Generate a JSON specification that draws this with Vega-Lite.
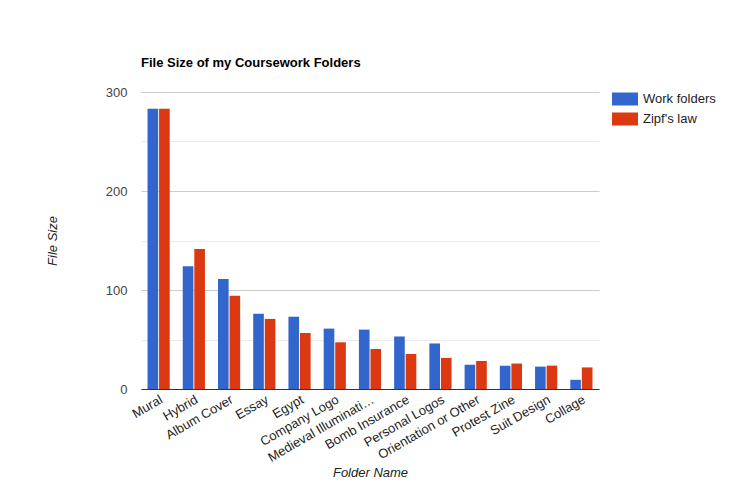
{
  "$schema": "https://vega.github.io/schema/vega-lite/v6.json",
  "description": "Grouped bars: file size of coursework folders compared with Zipf's law.",
  "width": 458,
  "height": 297,
  "autosize": "none",
  "padding": {"left": 141, "top": 92, "right": 141, "bottom": 92},
  "background": "#ffffff",
  "title": {
    "text": "File Size of my Coursework Folders",
    "anchor": "start",
    "frame": "group",
    "font": "Liberation Sans",
    "fontSize": 13,
    "fontWeight": "bold",
    "color": "#000000",
    "offset": 16
  },
  "data": {
    "values": [
      {"folder": "Mural", "series": "Work folders", "size": 283},
      {"folder": "Mural", "series": "Zipf's law", "size": 283},
      {"folder": "Hybrid", "series": "Work folders", "size": 124},
      {"folder": "Hybrid", "series": "Zipf's law", "size": 141.5},
      {"folder": "Album Cover", "series": "Work folders", "size": 111},
      {"folder": "Album Cover", "series": "Zipf's law", "size": 94.3},
      {"folder": "Essay", "series": "Work folders", "size": 76},
      {"folder": "Essay", "series": "Zipf's law", "size": 70.8},
      {"folder": "Egypt", "series": "Work folders", "size": 73},
      {"folder": "Egypt", "series": "Zipf's law", "size": 56.6},
      {"folder": "Company Logo", "series": "Work folders", "size": 61},
      {"folder": "Company Logo", "series": "Zipf's law", "size": 47.2},
      {"folder": "Medieval Illumination", "series": "Work folders", "size": 60},
      {"folder": "Medieval Illumination", "series": "Zipf's law", "size": 40.4},
      {"folder": "Bomb Insurance", "series": "Work folders", "size": 53},
      {"folder": "Bomb Insurance", "series": "Zipf's law", "size": 35.4},
      {"folder": "Personal Logos", "series": "Work folders", "size": 46},
      {"folder": "Personal Logos", "series": "Zipf's law", "size": 31.4},
      {"folder": "Orientation or Other", "series": "Work folders", "size": 24.5},
      {"folder": "Orientation or Other", "series": "Zipf's law", "size": 28.3},
      {"folder": "Protest Zine", "series": "Work folders", "size": 23.5},
      {"folder": "Protest Zine", "series": "Zipf's law", "size": 25.7},
      {"folder": "Suit Design", "series": "Work folders", "size": 22.6},
      {"folder": "Suit Design", "series": "Zipf's law", "size": 23.6},
      {"folder": "Collage", "series": "Work folders", "size": 9.3},
      {"folder": "Collage", "series": "Zipf's law", "size": 21.8}
    ]
  },
  "mark": {"type": "bar"},
  "encoding": {
    "x": {
      "field": "folder",
      "type": "nominal",
      "sort": null,
      "scale": {"paddingInner": 0.37, "paddingOuter": 0.185},
      "axis": {
        "title": "Folder Name",
        "titleFont": "Liberation Sans",
        "titleFontSize": 13,
        "titleFontStyle": "italic",
        "titleFontWeight": "normal",
        "titleColor": "#222222",
        "titlePadding": 2,
        "labelAngle": -30,
        "labelFont": "Liberation Sans",
        "labelFontSize": 13,
        "labelColor": "#222222",
        "labelLimit": 121,
        "labelPadding": 4,
        "ticks": false,
        "domainColor": "#333333",
        "domainWidth": 1,
        "grid": false
      }
    },
    "xOffset": {
      "field": "series",
      "type": "nominal",
      "scale": {"paddingInner": 0.08}
    },
    "y": {
      "field": "size",
      "type": "quantitative",
      "scale": {"domain": [0, 300], "nice": false},
      "axis": {
        "title": "File Size",
        "titleFont": "Liberation Sans",
        "titleFontSize": 13,
        "titleFontStyle": "italic",
        "titleFontWeight": "normal",
        "titleColor": "#222222",
        "titlePadding": 46,
        "values": [0, 50, 100, 150, 200, 250, 300],
        "labelExpr": "datum.value % 100 === 0 ? datum.label : ''",
        "labelFont": "Liberation Sans",
        "labelFontSize": 13,
        "labelColor": "#444444",
        "labelPadding": 14,
        "ticks": false,
        "domain": false,
        "gridColor": {
          "condition": {"test": "datum.value % 100 === 0", "value": "#cccccc"},
          "value": "#ebebeb"
        }
      }
    },
    "color": {
      "field": "series",
      "type": "nominal",
      "scale": {
        "domain": ["Work folders", "Zipf's law"],
        "range": ["#3366cc", "#dc3912"]
      },
      "legend": {
        "title": null,
        "orient": "none",
        "legendX": 471,
        "legendY": -6,
        "padding": 0,
        "symbolType": "M-1,-0.5H1V0.5H-1Z",
        "symbolSize": 676,
        "symbolStrokeWidth": 0,
        "symbolOpacity": 1,
        "labelFont": "Liberation Sans",
        "labelFontSize": 13,
        "labelColor": "#222222",
        "labelOffset": 5,
        "rowPadding": 0
      }
    }
  },
  "config": {
    "view": {"stroke": null}
  }
}
